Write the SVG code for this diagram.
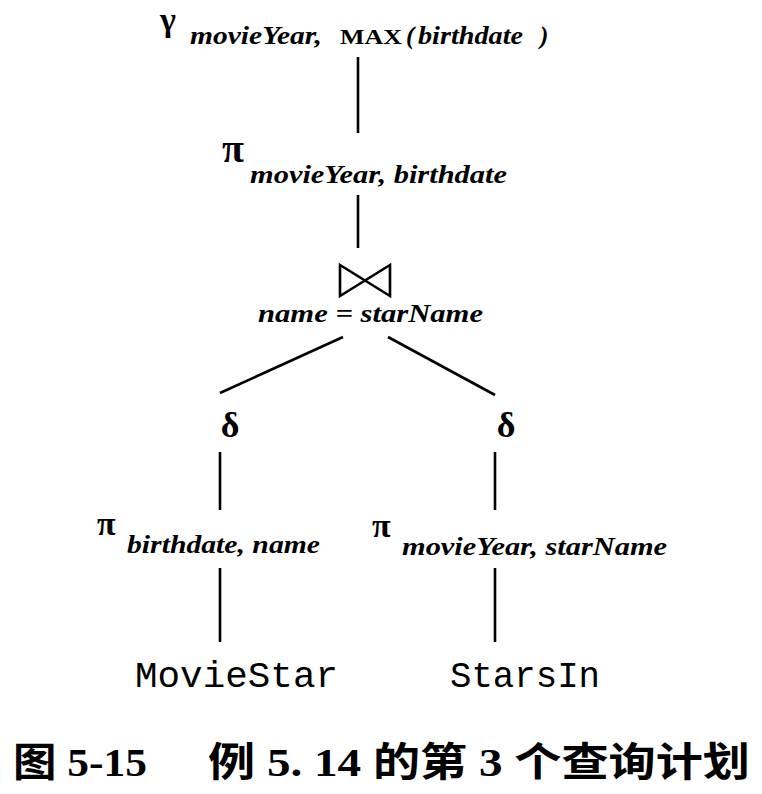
<svg xmlns="http://www.w3.org/2000/svg" width="762" height="794" viewBox="0 0 762 794">
<style>
.op{font-family:"Liberation Serif","DejaVu Serif",serif;font-weight:bold;fill:#000}
.sub{font-family:"Liberation Serif","DejaVu Serif",serif;font-weight:bold;font-style:italic;font-size:25px;fill:#000}
.rel{font-family:"Liberation Mono","DejaVu Sans Mono",monospace;font-size:37px;fill:#000}
.cap{font-family:"Liberation Serif","Noto Sans CJK SC",serif;font-weight:bold;font-size:40px;fill:#000}
.ln{stroke:#000;stroke-width:2.6;fill:none}
</style>
<rect width="762" height="794" fill="#fff"/>
<g id="connectors">
<line class="ln" x1="358" y1="57" x2="358" y2="133"/>
<line class="ln" x1="358" y1="195" x2="358" y2="248"/>
<line class="ln" x1="343" y1="337" x2="220" y2="393"/>
<line class="ln" x1="388" y1="337" x2="495" y2="395"/>
<line class="ln" x1="220" y1="452" x2="220" y2="510"/>
<line class="ln" x1="495" y1="452" x2="495" y2="510"/>
<line class="ln" x1="220" y1="568" x2="220" y2="642"/>
<line class="ln" x1="495" y1="568" x2="495" y2="642"/>
</g>
<g id="gamma">
<text class="op" x="160" y="31" font-size="34">γ</text>
<text class="sub" x="190" y="44" textLength="132" lengthAdjust="spacingAndGlyphs">movieYear,</text>
<text class="op" x="340" y="44" font-size="22" textLength="62" lengthAdjust="spacingAndGlyphs">MAX</text>
<text class="sub" x="406" y="44">(</text>
<text class="sub" x="418" y="44" textLength="105" lengthAdjust="spacingAndGlyphs">birthdate</text>
<text class="sub" x="540" y="44">)</text>
</g>
<g id="pi-top">
<text class="op" x="222" y="162" font-size="40">π</text>
<text class="sub" x="250" y="183" textLength="257" lengthAdjust="spacingAndGlyphs">movieYear, birthdate</text>
</g>
<g id="join">
<path class="ln" d="M340,265 L340,296 L390,265 L390,296 Z" stroke-width="2.4" stroke-linejoin="miter"/>
<text class="sub" x="258" y="322" textLength="225" lengthAdjust="spacingAndGlyphs">name = starName</text>
</g>
<g id="delta-left">
<text class="op" x="230" y="437" font-size="36" text-anchor="middle">δ</text>
</g>
<g id="delta-right">
<text class="op" x="506" y="437" font-size="36" text-anchor="middle">δ</text>
</g>
<g id="pi-left">
<text class="op" x="97" y="535" font-size="34">π</text>
<text class="sub" x="127" y="553" textLength="193" lengthAdjust="spacingAndGlyphs">birthdate, name</text>
</g>
<g id="pi-right">
<text class="op" x="372" y="537" font-size="34">π</text>
<text class="sub" x="402" y="555" textLength="265" lengthAdjust="spacingAndGlyphs">movieYear, starName</text>
</g>
<g id="moviestar">
<text class="rel" x="135" y="687" textLength="203" lengthAdjust="spacingAndGlyphs">MovieStar</text>
</g>
<g id="starsin">
<text class="rel" x="450" y="687" textLength="150" lengthAdjust="spacingAndGlyphs">StarsIn</text>
</g>
<g id="caption">
<text class="cap" x="13" y="776" textLength="134" lengthAdjust="spacingAndGlyphs">图 5-15</text>
<text class="cap" x="208" y="776" textLength="542" lengthAdjust="spacingAndGlyphs">例 5. 14 的第 3 个查询计划</text>
</g>
</svg>
